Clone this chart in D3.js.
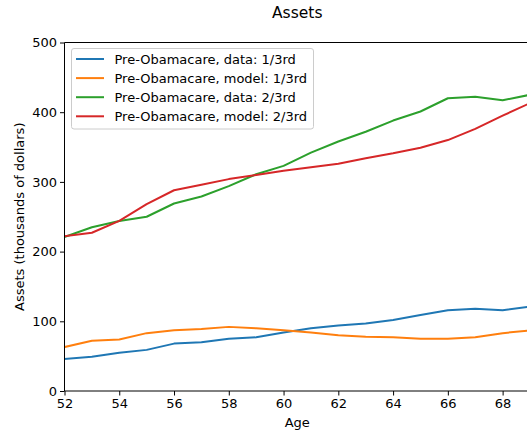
<!DOCTYPE html>
<html>
<head>
<meta charset="utf-8">
<script src="https://cdn.jsdelivr.net/npm/d3@7"></script>
<style>
  html, body { margin: 0; padding: 0; background: #fff; }
  svg { display: block; font-family: "DejaVu Sans", sans-serif; }
</style>
</head>
<body>
<svg id="chart" width="527" height="433"></svg>
<script>
// Ages on the horizontal axis
const ages = [52, 53, 54, 55, 56, 57, 58, 59, 60, 61, 62, 63, 64, 65, 66, 67, 68, 69];

// Assets in thousands of dollars, one array per series
const dataLow   = [46, 49, 55, 59, 68, 70, 75, 77, 84, 90, 94, 97, 102, 109, 116, 118, 116, 121];
const modelLow  = [63, 72, 74, 83, 87, 89, 92, 90, 87, 84, 80, 78, 77, 75, 75, 77, 83, 87];
const dataHigh  = [221, 235, 244, 250, 269, 279, 294, 311, 323, 342, 358, 372, 388, 401, 420, 422, 417, 425];
const modelHigh = [222, 227, 244, 268, 288, 296, 304, 310, 316, 321, 326, 334, 341, 349, 360, 376, 395, 413];

const seriesNames = [
  "Pre-Obamacare, data: 1/3rd",
  "Pre-Obamacare, model: 1/3rd",
  "Pre-Obamacare, data: 2/3rd",
  "Pre-Obamacare, model: 2/3rd"
];
const seriesColors = ["#1f77b4", "#ff7f0e", "#2ca02c", "#d62728"];

const xTicks = [52, 54, 56, 58, 60, 62, 64, 66, 68];
const yTicks = [0, 100, 200, 300, 400, 500];

const series = [dataLow, modelLow, dataHigh, modelHigh].map((vals, i) => ({
  name: seriesNames[i],
  color: seriesColors[i],
  points: ages.map((a, j) => ({ age: a, value: vals[j] }))
}));

const svg = d3.select("#chart");
const plot = { left: 64.5, right: 530, top: 42.5, bottom: 391 };

const x = d3.scaleLinear().domain([52, 69]).range([plot.left, plot.right]);
const y = d3.scaleLinear().domain([0, 500]).range([plot.bottom, plot.top]);

const fontSize = 13;

// Clip region for the plotting area
svg.append("defs").append("clipPath").attr("id", "plotClip")
  .append("rect")
  .attr("x", plot.left).attr("y", plot.top)
  .attr("width", plot.right - plot.left).attr("height", plot.bottom - plot.top);

// Series lines
const line = d3.line().x(d => x(d.age)).y(d => y(d.value));
const lines = svg.append("g").attr("clip-path", "url(#plotClip)");
series.forEach(s => {
  lines.append("path")
    .datum(s.points)
    .attr("fill", "none")
    .attr("stroke", s.color)
    .attr("stroke-width", 2)
    .attr("stroke-linejoin", "round")
    .attr("stroke-linecap", "square")
    .attr("d", line);
});

// Axes
const xAxis = d3.axisBottom(x).tickValues(xTicks).tickFormat(d3.format("d"))
  .tickSizeInner(4.5).tickSizeOuter(0).tickPadding(3);
const yAxis = d3.axisLeft(y).tickValues(yTicks).tickFormat(d3.format("d"))
  .tickSizeInner(4.5).tickSizeOuter(0).tickPadding(3);

const gx = svg.append("g").attr("transform", `translate(0,${plot.bottom})`).call(xAxis);
const gy = svg.append("g").attr("transform", `translate(${plot.left},0)`).call(yAxis);
[gx, gy].forEach(g => {
  g.select(".domain").remove();
  g.selectAll(".tick line").attr("stroke", "#000").attr("stroke-width", 1);
  g.selectAll(".tick text").attr("fill", "#000").style("font-size", fontSize + "px")
    .style("font-family", "DejaVu Sans");
});

// Spines
const spine = svg.append("g").attr("stroke", "#000").attr("stroke-width", 1).attr("fill", "none");
spine.append("line").attr("x1", plot.left).attr("x2", plot.left).attr("y1", plot.top).attr("y2", plot.bottom);
spine.append("line").attr("x1", plot.left).attr("x2", plot.right).attr("y1", plot.bottom).attr("y2", plot.bottom);
spine.append("line").attr("x1", plot.left).attr("x2", plot.right).attr("y1", plot.top).attr("y2", plot.top);
spine.append("line").attr("x1", plot.right).attr("x2", plot.right).attr("y1", plot.top).attr("y2", plot.bottom);

// Title and axis labels
const cx = (plot.left + plot.right) / 2;
svg.append("text").attr("x", cx).attr("y", 18)
  .attr("text-anchor", "middle").style("font-size", "15.5px").text("Assets");
svg.append("text").attr("x", cx).attr("y", 427)
  .attr("text-anchor", "middle").style("font-size", fontSize + "px").text("Age");
svg.append("text")
  .attr("transform", `translate(24,${(plot.top + plot.bottom) / 2}) rotate(-90)`)
  .attr("text-anchor", "middle").style("font-size", fontSize + "px")
  .text("Assets (thousands of dollars)");

// Legend
const legend = svg.append("g");
legend.append("rect")
  .attr("x", 71.5).attr("y", 48.5).attr("width", 242).attr("height", 80.5)
  .attr("rx", 2.5).attr("ry", 2.5)
  .attr("fill", "#fff").attr("fill-opacity", 0.8)
  .attr("stroke", "#cccccc").attr("stroke-width", 1);
series.forEach((s, i) => {
  const ly = 59 + i * 19.1;
  legend.append("line")
    .attr("x1", 76).attr("x2", 104).attr("y1", ly).attr("y2", ly)
    .attr("stroke", s.color).attr("stroke-width", 2);
  legend.append("text")
    .attr("x", 114.5).attr("y", ly).attr("dy", "0.36em")
    .style("font-size", fontSize + "px").text(s.name);
});
</script>
</body>
</html>
